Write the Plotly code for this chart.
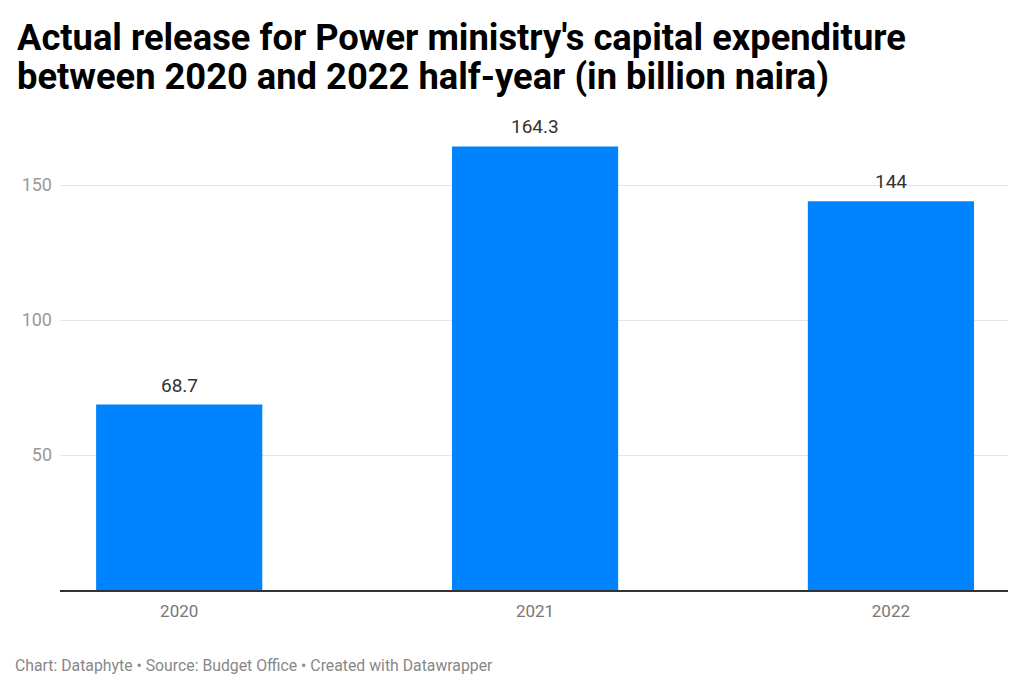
import plotly.graph_objects as go

years = ["2020", "2021", "2022"]
values = [68.7, 164.3, 144]
value_labels = ["68.7", "164.3", "144"]
y_ticks = [50, 100, 150]
title_lines = ["Actual release for Power ministry's capital expenditure",
               "between 2020 and 2022 half-year (in billion naira)"]
footer = "Chart: Dataphyte • Source: Budget Office • Created with Datawrapper"

BAR_COLOR = "#0083ff"
FONT = "Roboto"

fig = go.Figure()
fig.add_trace(go.Bar(
    x=years, y=values, marker=dict(color=BAR_COLOR, line=dict(width=0)),
    width=0.467, hoverinfo="skip",
))

for i, (v, lab) in enumerate(zip(values, value_labels)):
    fig.add_annotation(x=i, y=v, text=lab, showarrow=False, yanchor="bottom",
                       yshift=6, font=dict(family=FONT, size=19, color="#333333"))

for j, line in enumerate(title_lines):
    fig.add_annotation(xref="paper", yref="paper", x=0, y=1, xanchor="left", yanchor="middle",
                       text="<b>" + line + "</b>", showarrow=False, align="left",
                       xshift=-45, yshift=94 - 39 * j,
                       font=dict(family=FONT, size=36.3, color="#000000"))

fig.add_annotation(xref="paper", yref="paper", x=0, y=0, xanchor="left", yanchor="middle",
                   text=footer, showarrow=False, align="left", xshift=-47, yshift=-75,
                   font=dict(family=FONT, size=15.8, color="#888888"))

fig.update_layout(
    width=1024, height=694,
    margin=dict(l=60, r=16, t=131, b=104),
    paper_bgcolor="white", plot_bgcolor="white",
    showlegend=False,
    font=dict(family=FONT),
    xaxis=dict(type="category", range=[-0.335, 2.329], showgrid=False,
               showline=True, linecolor="#333333", linewidth=2,
               tickfont=dict(family=FONT, size=17, color="#777777"),
               ticks="", ticklabelstandoff=5, fixedrange=True),
    yaxis=dict(range=[0, 170], tickvals=y_ticks, ticktext=[str(t) for t in y_ticks],
               showgrid=True, gridcolor="#e5e5e5", gridwidth=1,
               zeroline=False, showline=False, ticks="",
               tickfont=dict(family=FONT, size=18, color="#999999"),
               ticklabelstandoff=7, fixedrange=True),
)

fig.write_html("out.html", config={"displayModeBar": False},
               post_script="document.body.style.margin='0';")
